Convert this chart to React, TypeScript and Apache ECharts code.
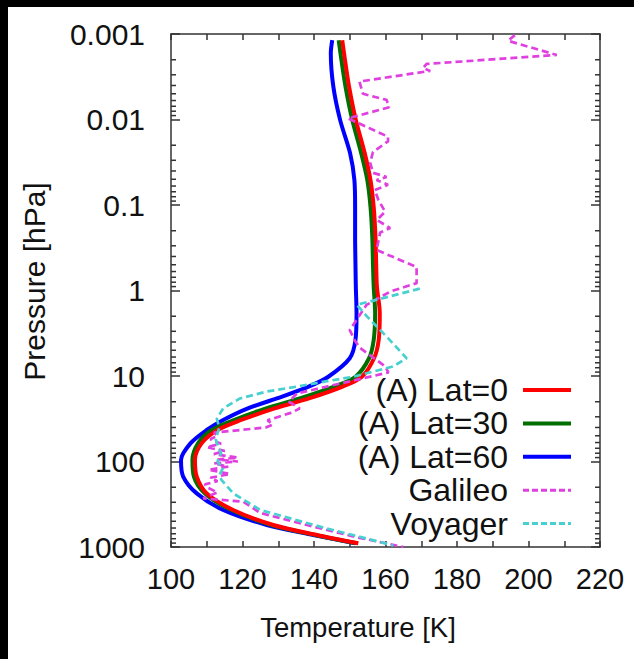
import React, { useEffect, useRef } from 'react';
import * as echarts from 'echarts';

// Model pressure grid [hPa]
const modelPressure = [0.00118, 0.00168, 0.0041, 0.0101, 0.0248, 0.051, 0.105, 0.235, 0.5, 0.9, 1.85, 3.8, 6.2, 10.2, 13.3, 18.3, 23.9, 32.7, 42.8, 61, 96, 150, 236, 369, 553, 724, 906];
const lat0Temp = [147.9, 148.4, 149.8, 151.7, 154.2, 155.8, 156.7, 157.2, 157.4, 157.6, 158.4, 158.1, 156.8, 153.4, 148, 138.6, 129, 119.6, 113, 108.6, 106.7, 107.2, 110, 117.4, 128.6, 140.8, 152.4];
const lat30Temp = [146.9, 147.4, 148.8, 150.7, 153.2, 154.9, 155.8, 156.3, 156.5, 156.7, 157.1, 156.7, 155.4, 151.6, 145.6, 136, 126.6, 117.6, 111.4, 107.6, 106, 106.4, 109.5, 116.9, 128.1, 140.3, 152];
const lat60Temp = [145.1, 144.7, 145.4, 147.3, 150.1, 151.3, 151.5, 151.5, 151.6, 151.7, 151.9, 151.6, 150, 144, 138.5, 129.6, 121.5, 114.6, 110, 105.5, 102.8, 103.4, 107.2, 114.6, 126.8, 139.8, 151.5];

// Observations: [temperature K, pressure hPa]
const galileoProfile = [
  [196.2, 0.00103], [194.3, 0.0012], [207.9, 0.00176], [171.5, 0.00224], [170.5, 0.0025], [172.5, 0.0027],
  [152.7, 0.0036], [153.7, 0.005], [160.3, 0.0059], [161, 0.0072], [149.5, 0.0097], [160.7, 0.0159],
  [160.7, 0.018], [156.5, 0.024], [155.7, 0.032], [156.5, 0.042], [160.3, 0.047], [157.5, 0.051],
  [160.7, 0.058], [157, 0.067], [158, 0.087], [159.9, 0.12], [157.6, 0.15], [161.3, 0.186], [158.5, 0.21],
  [157.5, 0.336], [168.7, 0.53], [168.7, 0.82], [161.3, 1.03], [154.7, 1.47], [150, 2.9], [151.5, 3.9],
  [152.9, 4.7], [159.9, 7.7], [160.8, 9.1], [135.2, 16], [133, 20], [136, 24], [133.5, 27], [127, 33],
  [128.5, 37], [126.5, 40], [112, 46], [113, 50], [111, 55], [114, 62], [110, 68], [115, 75], [112, 82],
  [118.7, 90], [113, 95], [118.7, 100], [112, 105], [116, 115], [110.5, 125], [116.5, 140], [111, 155],
  [113, 170], [109.5, 185], [110, 200], [113, 230], [109, 270], [120.2, 295], [125, 400], [138, 553],
  [152, 770], [165, 1000]
];
const voyagerProfile = [
  [169.6, 0.95], [152, 1.47], [155, 2.05], [160.7, 3.6], [165.9, 6.2], [162.2, 7.7], [151, 10.2],
  [143.6, 11.5], [135.2, 13.3], [126.8, 15.2], [119.3, 18.3], [114.6, 23.9], [112.8, 31.6], [113.5, 40],
  [112.5, 55], [113.2, 67], [114, 80], [113, 100], [114.5, 120], [113.5, 145], [114.2, 166], [117.4, 236],
  [125, 369], [141.7, 578], [162.2, 960]
];

const seriesNames = ['(A) Lat=0', '(A) Lat=30', '(A) Lat=60', 'Galileo', 'Voyager'];
const seriesColors = ['#ff0000', '#006f00', '#0000ff', '#e040e0', '#48d0d0'];
const yTickLabels = ['0.001', '0.01', '0.1', '1', '10', '100', '1000'];
const minorMultipliers = [2, 3, 4, 5, 6, 7, 8, 9];
const decades = [0.001, 0.01, 0.1, 1, 10, 100];

const FONT = '"Liberation Sans", Arial, sans-serif';
const AXIS_COLOR = '#333333';
const TEXT_COLOR = '#111111';
const DASH = [7, 4];

export default function App() {
  const ref = useRef<HTMLDivElement>(null);

  useEffect(() => {
    document.body.style.margin = '0';
    if (!ref.current) return;
    const chart = echarts.init(ref.current, null, { renderer: 'svg' });

    const zip = (temps: number[]) => temps.map((t, i) => [t, modelPressure[i]]);
    const minorTicks: number[][] = [];
    decades.forEach((d) => minorMultipliers.forEach((m) => minorTicks.push([100, d * m])));

    const axisCommon = {
      axisLine: { show: true, lineStyle: { color: AXIS_COLOR, width: 1.5 } },
      splitLine: { show: false },
    };

    const legendData = seriesNames.map((name, i) => ({
      name,
      lineStyle: i < 3
        ? { color: seriesColors[i], width: 4, type: 'solid' }
        : { color: seriesColors[i], width: 3, type: [6, 3] },
    }));

    chart.setOption({
      animation: false,
      backgroundColor: '#ffffff',
      textStyle: { fontFamily: FONT },
      grid: { left: 163, top: 27, right: 34, bottom: 112 },
      legend: {
        data: legendData,
        orient: 'vertical',
        align: 'right',
        right: 56,
        top: 362,
        itemWidth: 48,
        itemHeight: 14,
        itemGap: 1.4,
        selectedMode: false,
        itemStyle: { opacity: 0 },
        textStyle: { fontSize: 32, color: TEXT_COLOR, fontFamily: FONT, lineHeight: 30, padding: [0, 10, 0, 0] },
      },
      xAxis: [
        {
          type: 'value', min: 100, max: 220, interval: 10, position: 'bottom',
          ...axisCommon,
          axisTick: { inside: true, length: 6, lineStyle: { color: AXIS_COLOR, width: 1.5 } },
          axisLabel: {
            fontSize: 29, color: TEXT_COLOR, fontFamily: FONT, margin: 17,
            formatter: (v: number) => (v % 20 === 0 ? String(v) : ''),
          },
          name: 'Temperature [K]', nameLocation: 'middle', nameGap: 66,
          nameTextStyle: { fontSize: 27.5, color: TEXT_COLOR, fontFamily: FONT, padding: [0, 55, 0, 0] },
        },
        {
          type: 'value', min: 100, max: 220, interval: 10, position: 'top',
          ...axisCommon,
          axisTick: { inside: true, length: 6, lineStyle: { color: AXIS_COLOR, width: 1.5 } },
          axisLabel: { show: false },
        },
      ],
      yAxis: [
        {
          type: 'log', logBase: 10, min: 0.001, max: 1000, inverse: true, position: 'left',
          ...axisCommon,
          axisTick: { inside: true, length: 9, lineStyle: { color: AXIS_COLOR, width: 1.5 } },
          axisLabel: {
            fontSize: 30, color: TEXT_COLOR, fontFamily: FONT, margin: 26,
            formatter: (v: number) => yTickLabels[Math.round(Math.log10(v)) + 3] ?? '',
          },
          name: 'Pressure [hPa]', nameLocation: 'middle', nameGap: 122, nameRotate: 90,
          nameTextStyle: { fontSize: 30, color: TEXT_COLOR, fontFamily: FONT, padding: [0, 0, 0, 18] },
        },
        {
          type: 'log', logBase: 10, min: 0.001, max: 1000, inverse: true, position: 'right',
          ...axisCommon,
          axisTick: { inside: true, length: 9, lineStyle: { color: AXIS_COLOR, width: 1.5 } },
          axisLabel: { show: false },
        },
      ],
      series: [
        {
          type: 'custom', name: 'minorTicks', silent: true, clip: false,
          xAxisIndex: 0, yAxisIndex: 0,
          data: minorTicks,
          renderItem: (_params: any, api: any) => {
            const p = api.value(1);
            const l = api.coord([100, p]);
            const r = api.coord([220, p]);
            const st = { stroke: AXIS_COLOR, lineWidth: 1.5 };
            return {
              type: 'group',
              children: [
                { type: 'line', shape: { x1: l[0], y1: l[1], x2: l[0] + 5, y2: l[1] }, style: st },
                { type: 'line', shape: { x1: r[0] - 5, y1: r[1], x2: r[0], y2: r[1] }, style: st },
              ],
            };
          },
        },
        {
          type: 'line', name: seriesNames[2], data: zip(lat60Temp), showSymbol: false, symbol: 'none',
          smooth: 0.3, lineStyle: { color: seriesColors[2], width: 4 }, itemStyle: { color: seriesColors[2] }, z: 3,
        },
        {
          type: 'line', name: seriesNames[1], data: zip(lat30Temp), showSymbol: false, symbol: 'none',
          smooth: 0.3, lineStyle: { color: seriesColors[1], width: 4 }, itemStyle: { color: seriesColors[1] }, z: 3,
        },
        {
          type: 'line', name: seriesNames[0], data: zip(lat0Temp), showSymbol: false, symbol: 'none',
          smooth: 0.3, lineStyle: { color: seriesColors[0], width: 4 }, itemStyle: { color: seriesColors[0] }, z: 3,
        },
        {
          type: 'line', name: seriesNames[3], data: galileoProfile, showSymbol: false, symbol: 'none',
          lineStyle: { color: seriesColors[3], width: 2.7, type: DASH }, itemStyle: { color: seriesColors[3] }, z: 4,
        },
        {
          type: 'line', name: seriesNames[4], data: voyagerProfile, showSymbol: false, symbol: 'none',
          lineStyle: { color: seriesColors[4], width: 2.7, type: DASH }, itemStyle: { color: seriesColors[4] }, z: 4,
        },
      ],
    });

    return () => chart.dispose();
  }, []);

  return (
    <div style={{ width: 634, height: 659, background: '#000', position: 'relative', overflow: 'hidden' }}>
      <div ref={ref} style={{ position: 'absolute', left: 8, top: 7, width: 626, height: 652, background: '#fff' }} />
    </div>
  );
}
